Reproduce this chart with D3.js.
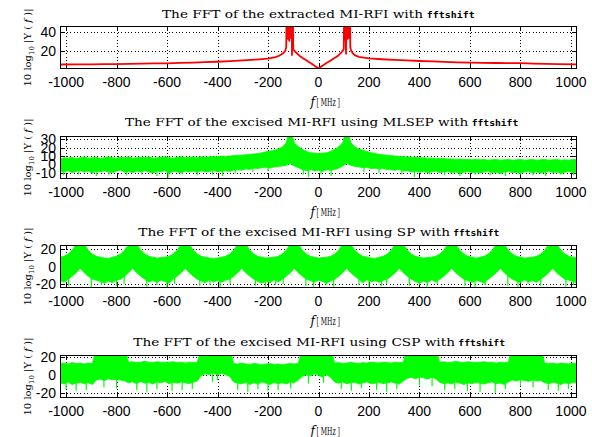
<!DOCTYPE html>
<html>
<head>
<meta charset="utf-8">
<script src="https://cdn.jsdelivr.net/npm/d3@7/dist/d3.min.js"></script>
<style>
html,body{margin:0;padding:0;background:#fff;}
svg{display:block;}
</style>
</head>
<body>
<svg id="chart" width="592" height="437"></svg>
<script>
// ================= DATA =================
const xDomain = [-1024, 1024];
const xTickValues = [-1000, -800, -600, -400, -200, 0, 200, 400, 600, 800, 1000];

const titles = [
  "The FFT of the extracted MI-RFI with",
  "The FFT of the excised MI-RFI using MLSEP with",
  "The FFT of the excised MI-RFI using SP with",
  "The FFT of the excised MI-RFI using CSP with"
];
const titleSuffix = "fftshift";

const yDomains = [[0.3, 47], [-17.5, 34], [-24.5, 25], [-26, 22]];
const yTickValues = [[20, 40], [-10, 0, 10, 20, 30], [-20, 0, 20], [-20, 0, 20]];

// frequency grid of the envelope arrays (MHz): start and step
const gridStartMHz = -1024, gridStepMHz = 16;

// Panel 1: extracted MI-RFI spectrum, [f MHz, dB]
const extractedRFI = [
  [-1024,5.2],[-950,5.4],[-900,5.3],[-850,5.6],[-800,5.7],[-750,5.9],[-700,6.1],[-650,6.3],[-600,6.5],
  [-550,6.9],[-500,7.3],[-450,7.7],[-400,8.2],[-350,8.9],[-300,9.7],[-250,10.5],[-200,11.5],[-175,12.8],
  [-160,14.2],[-148,16],[-138,18],[-131,20.5],[-128,24],[-127,48],[-125,36],[-124,48],[-122,33],[-121,48],
  [-119,38],[-118,48],[-116,31],[-115,48],[-113,36],[-112,48],[-110,34],[-109,48],[-107,39],[-106,48],
  [-105,15.5],[-104,48],[-102,30],[-101,48],[-100,22],[-97,20.5],[-90,18.5],[-80,15.8],[-70,13.5],
  [-60,11.8],[-50,10],[-40,8.2],[-30,6.5],[-20,4.6],[-10,2.8],[0,0.8],[10,2.8],[20,4.6],[30,6.5],
  [40,8.2],[50,9.8],[60,11.6],[70,13.3],[80,15.3],[90,18],[97,20.5],[100,22],[101,48],[103,32],
  [104,48],[106,35],[107,48],[109,17],[110,48],[112,37],[113,48],[115,33],[116,48],[118,38],[119,48],
  [121,34],[122,48],[124,36],[125,48],[126,24],[129,20.5],[135,17.5],[145,15],[160,13.5],[180,12.6],
  [200,11.9],[250,10.9],[300,10.2],[350,9.6],[400,9],[450,8.5],[500,8],[550,7.6],[600,7.3],[650,7],
  [700,6.8],[750,6.7],[800,6.6],[850,6.2],[900,5.9],[950,5.6],[1024,5.4]
];

// Panel 2: MLSEP, upper / lower envelope (dB) on the grid, plus downward dips [f, dB]
const mlsepUpper = [
  6,8,7.5,8.5,7,8,9,7.5,8,
  8.5,7,8,9,8,7.5,8.5,8,9,7.5,8,8.5,
  8,9,7.5,8,8.5,9,8,7.5,8.5,9,8,8.5,
  9,8,9.5,8.5,9,9.5,9,10,9.5,10,10.5,11,
  11,11.5,12,12.5,13,14,15,16,17,18.5,20.5,
  26,45,26,21,18,15.5,14,13.5,13,13.5,14,15.5,18,21,26,45,26,
  21,18.5,17,15.5,14,13,12,11.5,11,10.5,10,9.5,
  9.5,9,8.5,8.5,8,8,7.5,7.5,7,7,7,6.5,
  6.5,6,6.5,6,6,5.5,6,5.5,6,5,5.5,6,
  5,5.5,6,5,5.5,6,5,5.5,6,5,5.5,6,
  5,5.5,6,5,5.5,5,6,5.5
];
const mlsepLower = [
  -8,-9,-7.5,-10,-8.5,-7,-9.5,-8,-10.5,-8,-9,
  -7.5,-9,-10,-8,-7,-9.5,-8.5,-10,-8,-9,-7.5,
  -9,-10.5,-8,-9,-7.5,-11,-8.5,-9,-10,-8,-9,
  -8,-9.5,-7.5,-9,-8.5,-7,-9,-8,-7.5,-8.5,-7,
  -6.5,-7,-5.5,-6,-4.5,-5,-4,-3.5,-4.5,-3,-2.5,-2,
  -1,1,-2,-4,-6,-7.5,-6,-8,-7,-8.5,-6.5,-7,-6,-4.5,-2,1,-1,
  -2.5,-3,-4,-3.5,-5,-4.5,-5.5,-5,-6,-6.5,-7,-6,
  -8,-7.5,-9,-8,-9.5,-8.5,-10,-9,-8,-10,-9,-8.5,
  -10,-9,-11,-9.5,-8.5,-10,-9,-10.5,-9,-8,-10,-9.5,
  -11,-9,-8.5,-10,-9.5,-11,-9,-8.5,-10,-9,-10.5,-9.5,
  -8,-10,-9,-11,-9.5,-8.5,-10,-9
];
const mlsepDips = [
  [-1010,-13],[-950,-12],[-880,-14],[-830,-12],[-760,-13],[-700,-12],[-640,-14],[-596,-16],[-540,-12],
  [-480,-13],[-420,-12],[-380,-14],[-330,-11],[-260,-9],[-200,-8],[-60,-12],[-40,-15],[10,-12],[50,-14],
  [180,-9],[240,-10],[330,-12],[380,-15],[440,-12],[500,-13],[560,-14],[620,-12],[680,-13],[740,-14],
  [800,-12],[850,-13],[900,-14],[960,-12],[1010,-13]
];

// Panel 3: SP
const spUpper = [
  11,12,14.5,19,26,40,26,19,14.5,12,11,10,9.5,
  11,12,14.5,19,26,40,26,19,14.5,12,11,10,10.5,
  11,12,14.5,19,26,40,26,19,14.5,12,11,10,9.5,
  10,11,12,14.5,19,26,40,26,19,14.5,12,11,10,10.5,
  11,12,14.5,19,26,40,26,19,14.5,12,11,10,10.5,
  11,12,14.5,19,26,40,26,19,14.5,12,11,10,9.5,
  11,12,14.5,19,26,40,26,19,14.5,12,11,10,10.5,
  11,12,14.5,19,26,40,26,19,14.5,12,11,10,
  11,12,14.5,19,26,40,26,19,14.5,12,11,10,10.5,
  11,12,14.5,19,26,40,26,19,14.5,12,11,10
];
const spLower = [
  -16,-18,-14.5,-11,-7,-2,-7,-11,-14.5,-15.5,-17,-19,-16.5,
  -18.5,-15,-14.5,-11,-7,-2,-7,-11,-14.5,-17.5,-16,-18,-15.5,
  -17,-19,-14.5,-11,-7,-2,-7,-11,-14.5,-16.5,-18.5,-15,-17.5,
  -16,-18,-15.5,-14.5,-11,-7,-2,-7,-11,-14.5,-17,-19,-16.5,-18.5,
  -15,-17.5,-14.5,-11,-7,-2,-7,-11,-14.5,-16,-18,-15.5,-17,
  -19,-16.5,-14.5,-11,-7,-2,-7,-11,-14.5,-18.5,-15,-17.5,-16,
  -18,-15.5,-14.5,-11,-7,-2,-7,-11,-14.5,-17,-19,-16.5,-18.5,
  -15,-17.5,-14.5,-11,-7,-2,-7,-11,-14.5,-16,-18,-15.5,
  -17,-19,-14.5,-11,-7,-2,-7,-11,-14.5,-16.5,-18.5,-15,-17.5,
  -16,-18,-14.5,-11,-7,-2,-7,-11,-14.5,-15.5,-17,-19
];
const spDips = [
  [-990,-22],[-900,-23],[-860,-21],[-800,-22],[-770,-20],[-680,-23],[-640,-21],[-600,-24],[-570,-20],
  [-470,-22],[-430,-21],[-390,-23],[-350,-20],[-250,-22],[-210,-24],[-170,-21],[-140,-20],[-50,-22],
  [-20,-23],[30,-21],[60,-23],[160,-21],[200,-23],[250,-22],[270,-20],[360,-22],[400,-21],[430,-23],
  [470,-20],[580,-22],[620,-23],[660,-21],[750,-22],[790,-23],[830,-20],[880,-22],[980,-23],[1010,-21]
];

// Panel 4: CSP
const cspUpper = [
  12.5,13,12,13.5,12.5,13,12,13,12.5,
  30,30,30,30,30,30,30,30,
  14,14.5,13.5,14,15,14,13.5,14.5,14,13.5,14,14.5,13.5,14,13,14,13.5,14,
  30,30,30,30,30,30,30,30,
  12.5,12,13,12,11.5,12.5,12,11,12,12.5,11.5,12,11,12,12.5,12,13,
  30,30,30,30,30,30,30,30,
  13,13.5,12.5,13,14,13,12.5,13.5,13,14,13.5,13,14,13.5,13,14,13.5,14,
  30,30,30,30,30,30,30,30,
  14,14.5,13.5,14,15,14,13.5,14.5,14,13.5,14,14.5,13.5,14,13,14,13.5,14,
  30,30,30,30,30,30,30,30,
  13,12.5,13,12,13,12.5,12,13,12.5
];
const cspLower = [
  -9,-10.5,-8,-11,-9.5,-8.5,-10,-9,-11,
  -6,-5,-6.5,-4.5,-5.5,-5,-6,-7,
  -9,-8,-10,-7.5,-9.5,-8.5,-10.5,-8,-9,-7.5,-10,-8.5,-9.5,-8,-9,-10,-8.5,-7,
  -1,1,0,2,-0.5,1.5,0,-2,
  -8,-9.5,-10,-8.5,-11,-9,-10.5,-8,-9.5,-11,-8.5,-10,-9,-10.5,-8,-9,-6,
  -2,0,-1.5,1,-1,-2.5,0,-3,
  -8,-9.5,-8,-10,-9,-8.5,-10.5,-9,-8,-10,-9.5,-8.5,-10,-9,-8,-9.5,-10.5,-7,
  -4,-3,-4.5,-2.5,-3.5,-5,-3,-4.5,
  -8.5,-10,-9,-10.5,-8,-9.5,-11,-9,-10,-8.5,-9.5,-10.5,-9,-8,-10,-9.5,-11,-8,
  -6,-7,-5.5,-6.5,-7.5,-6,-7,-6.5,
  -9,-10,-8.5,-9.5,-11,-9,-10,-8.5,-9.5
];
const cspDips = [
  [-1000,-16],[-960,-18],[-920,-17],[-850,-14],[-800,-15],[-720,-17],[-680,-19],[-640,-16],[-580,-18],
  [-540,-17],[-500,-16],[-420,-8],[-400,-6],[-320,-17],[-280,-19],[-240,-16],[-200,-18],[-160,-17],
  [-110,-15],[-40,-10],[20,-9],[90,-16],[130,-18],[170,-15],[230,-17],[270,-19],[310,-16],[400,-12],
  [450,-13],[500,-17],[540,-16],[590,-18],[640,-19],[700,-20],[740,-16],[800,-13],[850,-14],[910,-17],
  [950,-18],[990,-16]
];

// ================= LAYOUT =================
const X0 = 60, X1 = 577, PH = 43;
const panelTops = [26, 136, 245, 355];
const titleBoxes = [
  {x: 162, w: 261, fx: 426.7, fw: 48, base: 17.5},
  {x: 125, w: 343.3, fx: 471.7, fw: 46.6, base: 126},
  {x: 138.3, w: 311.7, fx: 453.3, fw: 46, base: 236},
  {x: 133.3, w: 321.7, fx: 458.3, fw: 46.7, base: 345.7}
];
const GREEN = "#00ff00", RED = "#ff0000";

const svg = d3.select("#chart");
const x = d3.scaleLinear().domain(xDomain).range([X0, X1]);

function gridSeries(upper, lower) {
  return upper.map((u, i) => ({f: gridStartMHz + i * gridStepMHz, hi: u, lo: lower[i]}));
}
function lowerAt(lower, f) {
  const t = (f - gridStartMHz) / gridStepMHz;
  const i = Math.max(0, Math.min(lower.length - 2, Math.floor(t)));
  const r = t - i;
  return lower[i] * (1 - r) + lower[i + 1] * r;
}

const panels = [
  {type: "line", data: extractedRFI},
  {type: "band", data: gridSeries(mlsepUpper, mlsepLower), lower: mlsepLower, dips: mlsepDips},
  {type: "band", data: gridSeries(spUpper, spLower), lower: spLower, dips: spDips},
  {type: "band", data: gridSeries(cspUpper, cspLower), lower: cspLower, dips: cspDips}
];

panels.forEach((p, k) => {
  const top = panelTops[k], bot = top + PH;
  const y = d3.scaleLinear().domain(yDomains[k]).range([bot, top]);
  const g = svg.append("g");

  const cid = "clip" + k;
  svg.append("clipPath").attr("id", cid).append("rect")
    .attr("x", X0).attr("y", top).attr("width", X1 - X0).attr("height", PH);

  // grid (dotted)
  const grid = g.append("g").attr("stroke", "#000").attr("stroke-width", 1)
    .attr("stroke-dasharray", "1,2.4").attr("shape-rendering", "crispEdges");
  xTickValues.forEach(t => {
    grid.append("line").attr("x1", Math.round(x(t)) + 0.5).attr("x2", Math.round(x(t)) + 0.5)
      .attr("y1", top).attr("y2", bot);
  });
  yTickValues[k].forEach(t => {
    grid.append("line").attr("y1", Math.round(y(t)) + 0.5).attr("y2", Math.round(y(t)) + 0.5)
      .attr("x1", X0).attr("x2", X1);
  });

  // tick marks (inward, all four sides)
  const ticks = g.append("g").attr("stroke", "#000").attr("stroke-width", 1).attr("shape-rendering", "crispEdges");
  xTickValues.forEach(t => {
    const xx = Math.round(x(t)) + 0.5;
    ticks.append("line").attr("x1", xx).attr("x2", xx).attr("y1", bot).attr("y2", bot - 5);
    ticks.append("line").attr("x1", xx).attr("x2", xx).attr("y1", top).attr("y2", top + 5);
  });
  yTickValues[k].forEach(t => {
    const yy = Math.round(y(t)) + 0.5;
    ticks.append("line").attr("x1", X0).attr("x2", X0 + 5).attr("y1", yy).attr("y2", yy);
    ticks.append("line").attr("x1", X1).attr("x2", X1 - 5).attr("y1", yy).attr("y2", yy);
  });

  // data
  const dg = g.append("g").attr("clip-path", `url(#${cid})`);
  if (p.type === "line") {
    dg.append("path").datum(p.data)
      .attr("d", d3.line().x(d => x(d[0])).y(d => y(d[1])))
      .attr("fill", "none").attr("stroke", RED).attr("stroke-width", 1.8)
      .attr("stroke-linejoin", "round");
  } else {
    dg.append("path").datum(p.data)
      .attr("d", d3.area().x(d => x(d.f)).y0(d => y(d.lo)).y1(d => y(d.hi)))
      .attr("fill", GREEN).attr("stroke", GREEN).attr("stroke-width", 0.8);
    dg.selectAll("line.dip").data(p.dips).join("line")
      .attr("x1", d => x(d[0])).attr("x2", d => x(d[0]))
      .attr("y1", d => y(d[1])).attr("y2", d => y(lowerAt(p.lower, d[0]) + 1))
      .attr("stroke", GREEN).attr("stroke-width", 1.2);
  }

  // box
  g.append("rect").attr("x", X0 + 0.5).attr("y", top + 0.5).attr("width", X1 - X0 - 1).attr("height", PH - 1)
    .attr("fill", "none").attr("stroke", "#000").attr("stroke-width", 1).attr("shape-rendering", "crispEdges");

  // tick labels
  const lab = g.append("g").attr("font-family", "'Liberation Sans', Arial, sans-serif")
    .attr("font-size", 14).attr("fill", "#000");
  xTickValues.forEach(t => {
    lab.append("text").attr("x", x(t)).attr("y", bot + 18).attr("text-anchor", "middle").text(t);
  });
  yTickValues[k].forEach(t => {
    lab.append("text").attr("x", X0 - 4).attr("y", y(t)).attr("dy", "0.36em")
      .attr("text-anchor", "end").text(t);
  });

  // title
  const tb = titleBoxes[k];
  g.append("text").attr("x", tb.x).attr("y", tb.base)
    .attr("font-family", "'DejaVu Serif', serif").attr("font-size", 11.5)
    .attr("textLength", tb.w).attr("lengthAdjust", "spacingAndGlyphs").text(titles[k]);
  g.append("text").attr("x", tb.fx).attr("y", tb.base)
    .attr("font-family", "'DejaVu Sans Mono', monospace").attr("font-size", 8.5).attr("font-weight", "bold")
    .attr("textLength", tb.fw).attr("lengthAdjust", "spacingAndGlyphs").text(titleSuffix);

  // x label  "f [ MHz ]"
  g.append("text").attr("x", 310.5).attr("y", bot + 37)
    .attr("font-family", "'DejaVu Serif', serif").attr("font-style", "italic").attr("font-size", 12).text("f");
  g.append("text").attr("x", 316.5).attr("y", bot + 37)
    .attr("font-family", "'DejaVu Serif', serif").attr("font-size", 10.5)
    .attr("textLength", 23.5).attr("lengthAdjust", "spacingAndGlyphs").text("[ MHz ]");

  // y label
  const yl = g.append("text").attr("transform", `translate(31,${top + PH / 2}) rotate(-90)`)
    .attr("text-anchor", "middle").attr("font-family", "'DejaVu Serif', serif").attr("font-size", 10);
  yl.append("tspan").text("10 log");
  yl.append("tspan").attr("font-size", 7).attr("dy", 3).text("10");
  yl.append("tspan").attr("dy", -3).text(" |Y ( ");
  yl.append("tspan").attr("font-style", "italic").text("f");
  yl.append("tspan").text(" )|");
});
</script>
</body>
</html>
